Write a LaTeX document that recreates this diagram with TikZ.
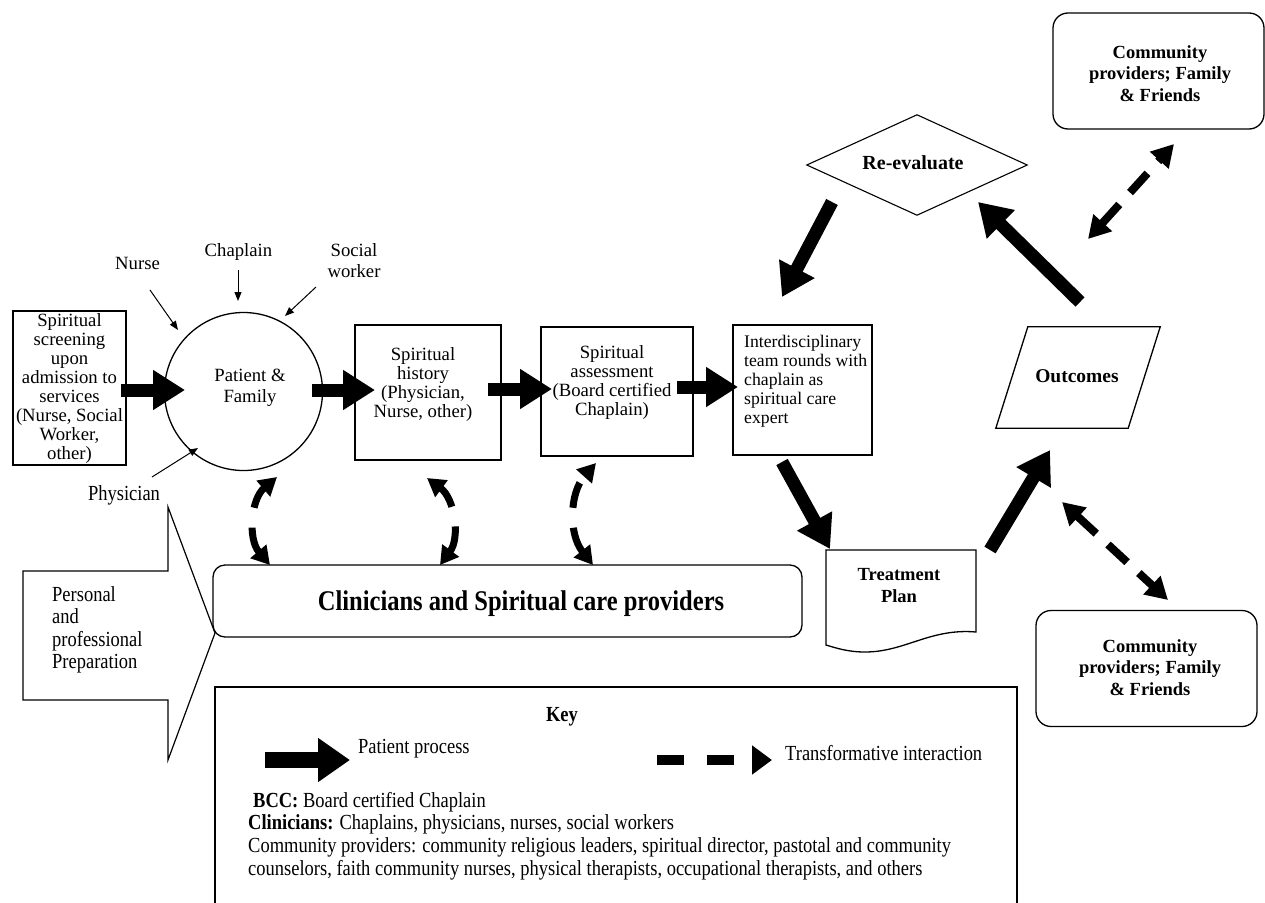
\documentclass[tikz,border=0pt]{standalone}
\usepackage{fontspec}
\setmainfont{Liberation Serif}
\newfontfamily\narrowserif[FakeStretch=0.86]{Liberation Serif}
\usetikzlibrary{arrows.meta,calc}
\newcommand\setfs[2]{\fontsize{#1}{#2}\selectfont}
\tikzset{
 box/.style={draw, line width=1.3pt, inner sep=0pt},
 txt/.style={inner sep=0pt, align=center, font=\setfs{18.7}{19}},
 btxt/.style={inner sep=0pt, align=center, font=\bfseries\setfs{18.5}{21.5}},
 ntxt/.style={inner sep=0pt, anchor=west, align=left, font=\narrowserif\setfs{21.5}{22.5}},
 fat/.style={line width=13pt, -{Triangle[length=32pt,width=38pt]}},
 thinarr/.style={line width=1pt, -{Triangle[length=9pt,width=7pt]}},
 dasharr/.style={line width=8pt, dash pattern=on 26pt off 16pt, {Triangle[length=22pt,width=24pt]}-{Triangle[length=22pt,width=24pt]}},
 cdash/.style={line width=7pt, dash pattern=on 26pt off 20pt, {Triangle[length=18pt,width=20pt]}-{Triangle[length=18pt,width=20pt]}},
 keyfat/.style={line width=16pt, -{Triangle[length=32pt,width=42pt]}},
 keydash/.style={line width=10pt, dash pattern=on 27pt off 23pt, -{Triangle[length=20pt,width=28pt]}},
}
\begin{document}
\begin{tikzpicture}[x=1pt,y=-1pt]
\fill[white] (0,0) rectangle (1265,902);
\useasboundingbox (0,0) rectangle (1265,902);

% left screening box
\node[box, txt, minimum width=113pt, minimum height=154pt] (screen) at (69.5,388)
  {Spiritual\\screening\\upon\\admission to\\services\\(Nurse, Social\\Worker,\\other)};

% patient & family
\node[box, circle, minimum size=158pt] (pf) at (243.5,391.5) {};
\node[txt, font=\setfs{18.7}{21}] (pft) at (250,388) {Patient \&\\Family};

\node[txt] (nurse) at (137.5,263) {Nurse};
\node[txt] (chap) at (238.5,252) {Chaplain};
\node[txt, font=\setfs{18.7}{21}] (social) at (354,261) {Social\\worker};
\node[inner sep=0pt, font=\narrowserif\setfs{21.5}{22}] (phys) at (124,495) {Physician};

\draw[thinarr] ([shift={(12.5,27)}]nurse.center) -- ([shift={(-65.5,-61.5)}]pf.center);
\draw[thinarr] ([shift={(-0.5,18)}]chap.center) -- ([shift={(-5.5,-90.5)}]pf.center);
\draw[thinarr] ([shift={(-38,26)}]social.center) -- ([shift={(41.5,-75.5)}]pf.center);
\draw[thinarr] ([shift={(28,-18)}]phys.center) -- ([shift={(-45.5,56.5)}]pf.center);

% history / assessment / interdisciplinary
\node[box, minimum width=146pt, minimum height=135pt] (hist) at (428,392.5) {};
\node[txt] (histt) at (423,384) {Spiritual\\history\\(Physician,\\Nurse, other)};
\node[box, minimum width=152pt, minimum height=129pt] (assess) at (617,391.5) {};
\node[txt] (assesst) at (612,382) {Spiritual\\assessment\\(Board certified\\Chaplain)};
\node[box, minimum width=139pt, minimum height=130pt] (idt) at (802.5,390) {};
\node[txt, align=left, anchor=west, font=\setfs{17.7}{19}] (idtt) at (744,381) {Interdisciplinary\\team rounds with\\chaplain as\\spiritual care\\expert};

% re-evaluate diamond
\node[minimum width=220pt, minimum height=100pt, inner sep=0pt] (reeval) at (917,165) {};
\draw[line width=1.1pt] (reeval.west) -- (reeval.north) -- (reeval.east) -- (reeval.south) -- cycle;
\node[btxt, font=\bfseries\setfs{20}{22}] (reevalt) at (913,163) {Re-evaluate};

% outcomes parallelogram
\node[minimum width=164pt, minimum height=101pt, inner sep=0pt] (outc) at (1078,377.5) {};
\draw[line width=1.3pt] ([xshift=32pt]outc.north west) -- (outc.north east) -- ([xshift=-32pt]outc.south east) -- (outc.south west) -- cycle;
\node[btxt, font=\bfseries\setfs{19.5}{22}] (outct) at (1077,376) {Outcomes};

% treatment plan
\node[minimum width=150pt, minimum height=80pt, inner sep=0pt] (plan) at (901,590) {};
\draw[line width=1.3pt] (826,550) -- (976,550) -- (976,632) .. controls (930,628) and (905,652) .. (865,652) .. controls (848,652) and (836,648) .. (826,645) -- cycle;
\node[btxt, font=\bfseries\setfs{18.5}{22}] (plant) at (899,586) {Treatment\\Plan};

% community boxes
\node[box, rounded corners=15pt, minimum width=211pt, minimum height=116pt] (comtop) at (1158.5,71) {};
\node[btxt] (comtopt) at (1160,73.5) {Community\\providers; Family\\\& Friends};
\node[box, rounded corners=15pt, minimum width=221pt, minimum height=116pt] (combot) at (1146.5,668.5) {};
\node[btxt] (combott) at (1150,667.5) {Community\\providers; Family\\\& Friends};

% clinicians box
\node[box, rounded corners=12pt, minimum width=589pt, minimum height=72pt] (clin) at (507.5,601) {};
\node[inner sep=0pt, font=\narrowserif\bfseries\setfs{28.5}{30}] (clint) at (521,604) {Clinicians and Spiritual care providers};

% preparation arrow shape
\draw[line width=1.2pt] (23,571) -- (168,571) -- (168,507) -- (215,633) -- (168,760) -- (168,700) -- (23,700) -- cycle;
\node[ntxt] (prept) at (52,630) {Personal\\and\\professional\\Preparation};

% patient process arrows
\draw[fat] ([shift={(51.5,2)}]screen.center) -- ([shift={(-58.5,-1.5)}]pf.center);
\draw[fat] ([shift={(68.5,-1.5)}]pf.center) -- ([shift={(-53,-2.5)}]hist.center);
\draw[fat] ([shift={(60,-3.5)}]hist.center) -- ([shift={(-65,-2.5)}]assess.center);
\draw[fat] ([shift={(60,-4.5)}]assess.center) -- ([shift={(-64.5,-3)}]idt.center);
\draw[fat] ([shift={(-85,37)}]reeval.center) -- ([shift={(-20.5,-93)}]idt.center);
\draw[fat] ([shift={(-20.5,72)}]idt.center) -- ([shift={(-71,-41)}]plan.center);
\draw[fat] ([shift={(89,-40)}]plan.center) -- ([shift={(-28,72.5)}]outc.center);
\draw[fat] ([shift={(2,-75.5)}]outc.center) -- ([shift={(61,37)}]reeval.center);

% transformative interactions
\draw[dasharr] ([shift={(10,-138.5)}]outc.center) -- ([shift={(15.5,73)}]comtop.center);
\draw[dasharr] ([shift={(-16,124.5)}]outc.center) -- ([shift={(21.5,-68.5)}]combot.center);
\draw[cdash] ([shift={(-237.5,-36)}]clin.center) to[bend left=45] ([shift={(33.5,85.5)}]pf.center);
\draw[cdash] ([shift={(-67.5,-36)}]clin.center) to[bend right=45] ([shift={(-1,85.5)}]hist.center);
\draw[cdash] ([shift={(85.5,-36)}]clin.center) to[bend left=40] ([shift={(-21,71.5)}]assess.center);

% key
\draw[line width=1.3pt] (215,905) -- (215,687) -- (1017,687) -- (1017,905);
\node[inner sep=0pt, font=\narrowserif\bfseries\setfs{21.5}{22}] (keyt) at (562,717) {Key};
\coordinate (ka1) at (265,760);
\coordinate (ka2) at (350,760);
\draw[keyfat] (ka1) -- (ka2);
\node[ntxt] (kpp) at (358,749) {Patient process};
\coordinate (kd1) at (657,760);
\coordinate (kd2) at (772,760);
\draw[keydash] (kd1) -- (kd2);
\node[ntxt] (kti) at (785,753) {Transformative interaction};
\node[ntxt] (bcc) at (253,802) {\textbf{BCC:} Board certified Chaplain};
\node[ntxt] (clk) at (248,824) {\textbf{Clinicians:} Chaplains, physicians, nurses, social workers};
\node[ntxt] (cp1) at (248,847) {Community providers: community religious leaders, spiritual director, pastotal and community};
\node[ntxt] (cp2) at (248,870) {counselors, faith community nurses, physical therapists, occupational therapists, and others};
\end{tikzpicture}
\end{document}
